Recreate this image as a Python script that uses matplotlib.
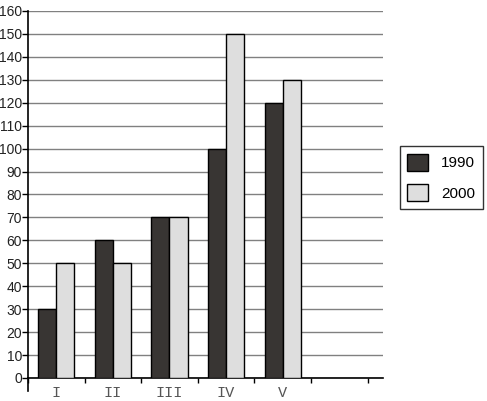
import matplotlib
matplotlib.use("Agg")
import matplotlib.pyplot as plt
import numpy as np

# data
categories = ["I", "II", "III", "IV", "V", ""]
values_1990 = [30, 60, 70, 100, 120]
values_2000 = [50, 50, 70, 150, 130]
y_ticks = list(range(0, 161, 10))

fig = plt.figure(figsize=(4.87, 4.01), dpi=100)
ax = fig.add_axes([0.0575, 0.0574, 0.7285, 0.9152])

x = np.arange(len(values_1990)) + 0.5
w = 0.32
ax.bar(x - w / 2, values_1990, w, color="#383533", edgecolor="black", linewidth=1, label="1990", zorder=3)
ax.bar(x + w / 2, values_2000, w, color="#dedede", edgecolor="black", linewidth=1, label="2000", zorder=3)

ax.set_xlim(0, 6.27)
ax.set_ylim(0, 160)
ax.set_yticks(y_ticks)
ax.set_yticklabels([str(v) for v in y_ticks], fontsize=10, family="Liberation Sans", color="#222222")
ax.yaxis.grid(True, color="#808080", linewidth=1, zorder=0)

# category ticks at slot boundaries, labels in slot centres
ax.set_xticks(np.arange(0, 7))
ax.set_xticklabels([])
ax.set_xticks(np.arange(len(categories)) + 0.5, minor=True)
ax.set_xticklabels(categories, minor=True, fontsize=11, family="Liberation Mono", color="#555555")
ax.tick_params(axis="x", which="minor", length=0, pad=6)
ax.tick_params(axis="x", which="major", length=3.5, width=1, direction="out")
ax.tick_params(axis="y", length=4, width=1, pad=0.3)

for s in ["top", "right"]:
    ax.spines[s].set_visible(False)
ax.spines["left"].set_linewidth(1.2)
ax.spines["bottom"].set_linewidth(1.2)
ax.plot([0, 0], [0, -5.5], color="black", linewidth=1.2, clip_on=False)

leg = ax.legend(loc="center left", bbox_to_anchor=(1.048, 0.546), borderaxespad=0, frameon=True, fancybox=False,
                edgecolor="black", handlelength=1.37, handleheight=1.31,
                labelspacing=0.9, handletextpad=0.85, borderpad=0.5,
                prop={"family": "Liberation Sans", "size": 11})
leg.get_frame().set_linewidth(1)

fig.savefig("out.png", dpi=100)
